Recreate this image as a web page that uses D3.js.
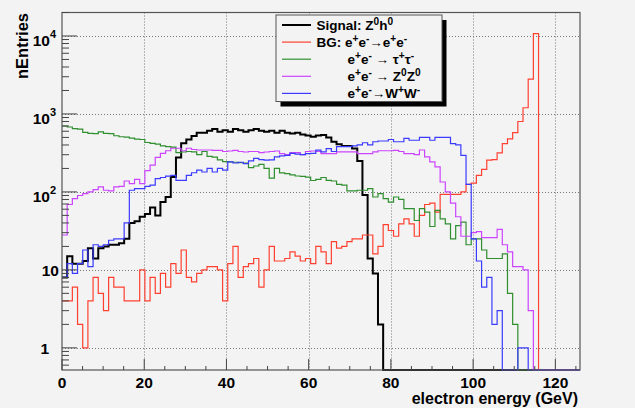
<!DOCTYPE html>
<html><head><meta charset="utf-8">
<script src="https://cdn.jsdelivr.net/npm/d3@7"></script>
<style>html,body{margin:0;padding:0;background:#f3f3f3;}svg{display:block;}text{font-family:"Liberation Sans",Arial,Helvetica,sans-serif;font-weight:bold;}</style>
</head><body><svg id="c" width="635" height="408"></svg>
<script>
// ---- data: 100 bins of 1.26 GeV from 0 to 126 GeV ----
const binWidth = 1.26;
const signalZh = [8,15,12,12,13,19,14,19,20,21,21,22,25,40,42,48,52,63,50,74,86,155,277,420,470,520,575,575,610,640,590,620,590,640,620,590,620,640,610,590,610,575,610,575,560,575,545,530,510,530,537,500,440,410,388,388,360,250,91,14,9,2,0,0,0,0,0,0,0,0,0,0,0,0,0,0,0,0,0,0,0,0,0,0,0,0,0,0,0,0,0,0,0,0,0,0,0,0,0,0];
const bgEE = [4,4,6,2,1,4,8,5,3,8,6,6,4,4,4,10,4,8,5,9,6,12,9,18,8,7,9,10,11,11,10,4,12,20,8,11,12,14,6,10,20,13,13,14,17,15,13,14,12,20,17,12,23,19,20,23,25,25,28,28,16,20,38,32,27,39,45,39,27,50,69,72,55,93,93,93,93,100,125,130,163,195,256,260,316,417,480,575,800,1200,2800,10700,0,0,0,0,0,0,0,0];
const bgTauTau = [700,680,650,640,580,565,560,590,565,560,525,510,505,490,475,470,430,420,410,390,380,375,320,325,330,327,300,330,285,280,258,245,243,240,238,235,205,215,225,200,150,200,175,172,165,160,158,155,140,145,153,141,138,125,122,103,103,105,105,110,86,95,82,74,86,80,61,61,43,61,55,36,58,45,39,25,37,41,21,25,25,18,14,14,14,16,5,2,0,0,0,0,0,0,0,0,0,0,0,0];
const bgZZ = [28,69,82,90,95,100,107,116,105,103,116,118,138,128,145,128,187,220,277,312,337,363,363,337,363,350,345,345,345,340,340,330,335,340,330,325,330,330,320,325,330,335,310,300,320,320,300,330,335,330,310,310,310,327,327,327,327,310,310,310,327,337,337,337,340,330,310,310,300,345,282,243,210,134,100,72,48,27,27,30,31,26,26,26,33,21,17,11,11,10,3,0,0,0,0,0,0,0,0,0];
const bgWW = [8,12,9,12,18,11,21,20,21,24,25,25,40,105,110,110,118,122,148,153,159,163,141,141,163,176,190,180,200,180,200,190,243,235,240,230,250,270,260,255,258,282,290,295,312,305,300,310,312,344,327,360,330,380,380,380,390,400,427,400,440,450,450,470,440,440,487,460,460,500,500,460,500,500,500,417,400,295,125,25,13,6,8,2,3,0,0,0,1,1,0,0,0,0,0,0,0,0,0,0];
const xTicks = [0,20,40,60,80,100,120];
const yTicks = [1,10,100,1000,10000];
const legendLabels = ["Signal: Z^{0}h^{0}","BG: e^{+}e^{-}\u2192e^{+}e^{-}","e^{+}e^{-} \u2192 \u03c4^{+}\u03c4^{-}","e^{+}e^{-} \u2192 Z^{0}Z^{0}","e^{+}e^{-}\u2192W^{+}W^{-}"];
const xTitle = "electron energy (GeV)";
const yTitle = "nEntries";

const series = [
  {v: signalZh, c:"#000000", w:2},
  {v: bgEE, c:"#ff4030", w:1.2},
  {v: bgTauTau, c:"#2f8f2f", w:1.2},
  {v: bgZZ, c:"#cc44ff", w:1.2},
  {v: bgWW, c:"#3b3bff", w:1.2}
];

const svg = d3.select("#c");
const L=62, R=580, T=12.5, B=370;
const x = d3.scaleLinear().domain([0,126]).range([L,R]);
const y = d3.scaleLog().domain([0.52,20000]).range([B,T]);

svg.append("rect").attr("width",635).attr("height",408).attr("fill","#f3f3f3");

// grid
const grid = svg.append("g").attr("stroke","#777").attr("stroke-width",1).attr("stroke-dasharray","1,2");
xTicks.filter(d=>d>0).forEach(d=>grid.append("line").attr("x1",Math.round(x(d))+0.5).attr("x2",Math.round(x(d))+0.5).attr("y1",T).attr("y2",B));
yTicks.forEach(d=>grid.append("line").attr("y1",Math.round(y(d))+0.5).attr("y2",Math.round(y(d))+0.5).attr("x1",L).attr("x2",R));

// histograms
const line = d3.line();
series.forEach(s=>{
  const pts=[];
  s.v.forEach((v,i)=>{
    const yy = y(Math.max(v, 0.52));
    pts.push([x(i*binWidth), yy]);
    pts.push([x((i+1)*binWidth), yy]);
  });
  svg.append("path").attr("d", line(pts)).attr("fill","none").attr("stroke",s.c).attr("stroke-width",s.w).attr("stroke-linejoin","miter");
});

// frame
svg.append("rect").attr("x",L).attr("y",T).attr("width",R-L).attr("height",B-T).attr("fill","none").attr("stroke","#555").attr("stroke-width",1.2);

// axes ticks
const tk = svg.append("g").attr("stroke","#444").attr("stroke-width",1);
d3.range(0,126.01,5).forEach(d=>{
  const major = d%20===0;
  tk.append("line").attr("x1",x(d)).attr("x2",x(d)).attr("y1",B).attr("y2",B-(major?11:4));
});
const minors=[];
for (let e=-1;e<=4;e++) for (let m=1;m<10;m++){ const v=m*Math.pow(10,e); if(v>=0.52 && v<=20000) minors.push(v); }
minors.forEach(v=>{
  const major = yTicks.includes(v);
  tk.append("line").attr("x1",L).attr("x2",L+(major?15:7)).attr("y1",y(v)).attr("y2",y(v));
});

// tick labels
xTicks.forEach(d=>svg.append("text").attr("x",x(d)).attr("y",388).attr("text-anchor","middle").attr("font-size",15.5).attr("fill","#000").text(d));
yTicks.forEach(d=>{
  const t = svg.append("text").attr("font-size",15.5).attr("fill","#000").attr("text-anchor","end");
  if (d===1){ t.attr("x",49).attr("y",y(d)+6.5).text("1"); }
  else if (d===10){ t.attr("x",59).attr("y",y(d)+6).text("10"); }
  else {
    const e = Math.round(Math.log10(d));
    t.attr("x",56).attr("y",y(d)+10);
    t.append("tspan").text("10");
    t.append("tspan").attr("font-size",11).attr("dy",-8).text(e);
  }
});

// axis titles
svg.append("text").attr("x",578).attr("y",404).attr("text-anchor","end").attr("font-size",16).text(xTitle);
svg.append("text").attr("transform","translate(28,13) rotate(-90)").attr("text-anchor","end").attr("font-size",16.5).text(yTitle);

// legend
const lx=276, ly=15, lw=166, lh=86.5;
svg.append("rect").attr("x",lx+4.5).attr("y",ly+5).attr("width",lw).attr("height",lh).attr("fill","#000");
svg.append("rect").attr("x",lx).attr("y",ly).attr("width",lw).attr("height",lh).attr("fill","#f3f3f3").attr("stroke","#555").attr("stroke-width",1);
function rich(sel, str, fs){
  const re=/\^\{([^}]*)\}/g; let last=0, m, up=false;
  while((m=re.exec(str))){
    if(m.index>last){ sel.append("tspan").attr("dy", up?5:null).text(str.slice(last,m.index)); up=false; }
    sel.append("tspan").attr("font-size",fs*0.75).attr("dy", up?0:-5).text(m[1]); up=true;
    last=re.lastIndex;
  }
  if(last<str.length) sel.append("tspan").attr("dy", up?5:null).text(str.slice(last));
}
legendLabels.forEach((lab,i)=>{
  const cy = ly+10+i*17.1;
  svg.append("line").attr("x1",282).attr("x2",311).attr("y1",cy).attr("y2",cy).attr("stroke",series[i].c).attr("stroke-width",series[i].w);
  const t = svg.append("text").attr("x", i<2?316.5:347.5).attr("y",cy+4.5).attr("font-size",13.5).attr("fill","#000");
  rich(t, lab, 13.5);
});
</script></body></html>
